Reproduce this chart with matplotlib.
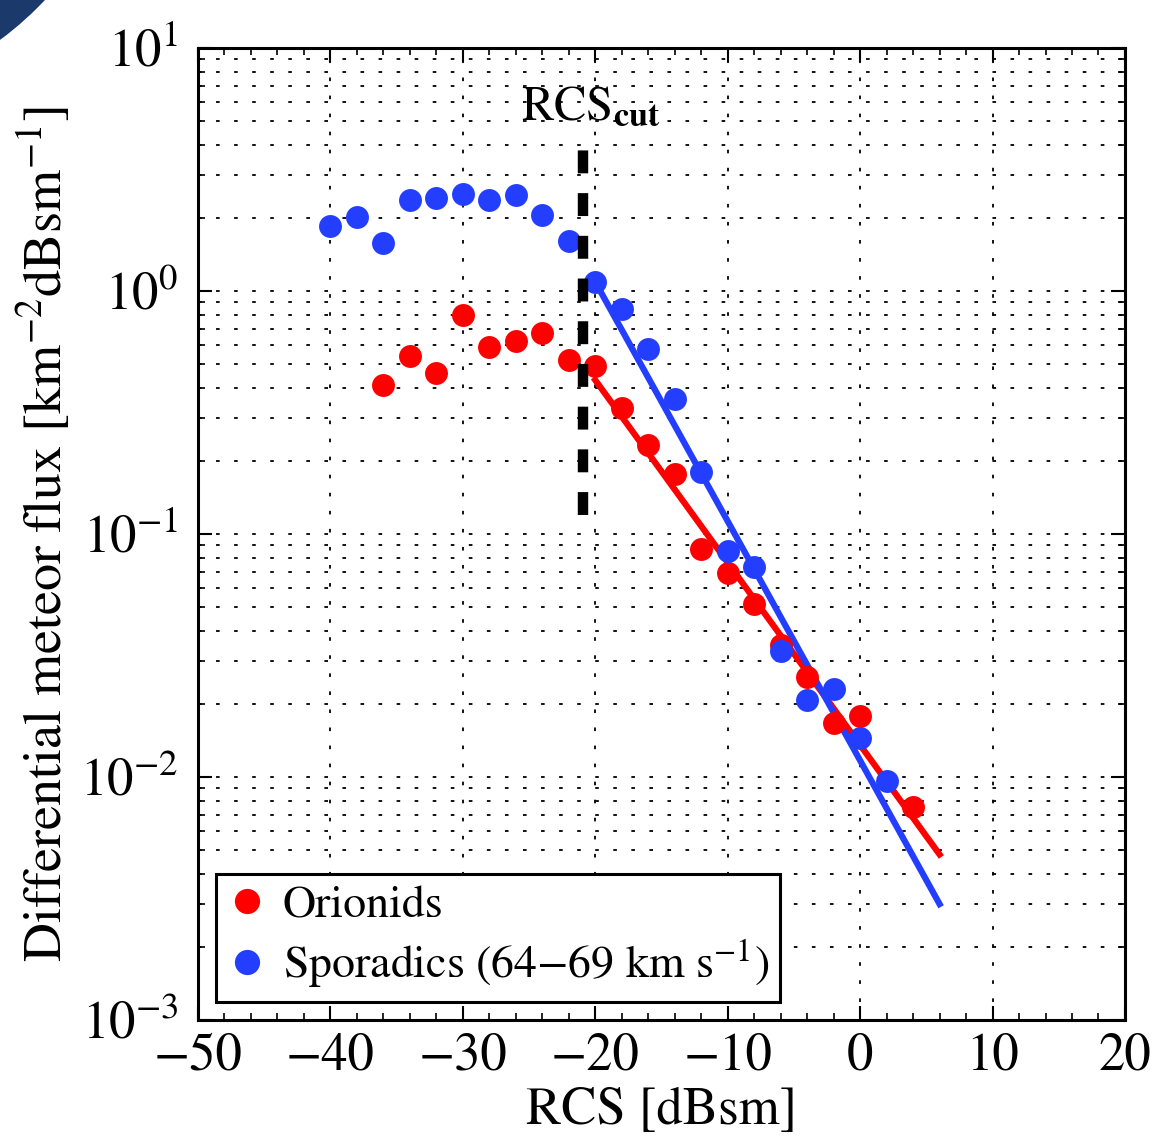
import matplotlib
matplotlib.use("Agg")
import matplotlib.pyplot as plt
from matplotlib.patches import Circle
from matplotlib.ticker import LogLocator, MultipleLocator, NullFormatter

plt.rcParams["font.family"] = ["STIXGeneral", "DejaVu Serif"]
plt.rcParams["mathtext.fontset"] = "stix"

# Данные: дифференциальный поток метеоров
rcs_sporadic = [-40, -38, -36, -34, -32, -30, -28, -26, -24, -22, -20,
                -18, -16, -14, -12, -10, -8, -6, -4, -2, 0, 2]
flux_sporadic = [1.85, 2.02, 1.58, 2.37, 2.41, 2.51, 2.37, 2.48, 2.05, 1.61, 1.09,
                 0.84, 0.58, 0.36, 0.18, 0.085, 0.073, 0.033, 0.0207, 0.023, 0.0145, 0.0096]

rcs_orionid = [-36, -34, -32, -30, -28, -26, -24, -22, -20,
               -18, -16, -14, -12, -10, -8, -6, -4, -2, 0, 4]
flux_orionid = [0.41, 0.54, 0.46, 0.80, 0.59, 0.62, 0.67, 0.52, 0.49,
                0.33, 0.232, 0.177, 0.087, 0.069, 0.0515, 0.035, 0.0258, 0.0167, 0.0178, 0.0075]

# аппроксимации (концы прямых в лог-масштабе)
fit_rcs = [-20, 6]
fit_orionid = [0.43, 0.0048]
fit_sporadic = [1.09, 0.0030]

rcs_cut = -20.9
cut_span = [0.12, 4.0]

red = "#ff0000"
blue = "#233eff"

fig = plt.figure(figsize=(11.55, 11.44), dpi=100)
ax = fig.add_axes([0.1714, 0.1084, 0.8026, 0.8496])

# угол слайда
fig.patches.append(Circle((-200, 1144 + 230), 336, transform=None,
                          facecolor="#1b3a6b", edgecolor="none", zorder=0))

ax.plot(fit_rcs, fit_orionid, color=red, lw=4.5, zorder=3)
ax.plot(fit_rcs, fit_sporadic, color=blue, lw=4.5, zorder=3)
ax.plot(rcs_orionid, flux_orionid, "o", color=red, ms=16.5, mec="none",
        label="Orionids", zorder=4)
ax.plot(rcs_sporadic, flux_sporadic, "o", color=blue, ms=16.5, mec="none",
        label="Sporadics (64$-$69 km s$^{-1}$)", zorder=4)

ax.plot([rcs_cut, rcs_cut], cut_span, color="black", lw=7.5,
        dashes=(2.2, 1.9), zorder=5)
ax.text(rcs_cut + 0.6, 4.6, r"RCS$_{\mathbf{cut}}$", fontsize=35,
        ha="center", va="bottom")

ax.set_yscale("log")
ax.set_xlim(-50, 20)
ax.set_ylim(1e-3, 1e1)

ax.xaxis.set_major_locator(MultipleLocator(10))
ax.xaxis.set_minor_locator(MultipleLocator(2))
ax.yaxis.set_major_locator(LogLocator(base=10, numticks=10))
ax.yaxis.set_minor_locator(LogLocator(base=10, subs=range(2, 10), numticks=20))
ax.yaxis.set_minor_formatter(NullFormatter())

ax.grid(True, which="major", axis="x", color="black", lw=1.3, linestyle=(0, (2, 8)))
ax.grid(True, which="both", axis="y", color="black", lw=1.3, linestyle=(0, (2, 8)))

ax.tick_params(which="both", direction="in", top=True, right=True, labelsize=38)
ax.tick_params(which="major", length=10, width=1.5, pad=9)
ax.tick_params(which="minor", length=5, width=1.2)
ax.tick_params(axis="y", which="major", pad=14)
for sp in ax.spines.values():
    sp.set_linewidth(2.2)

ax.set_xlabel("RCS [dBsm]", fontsize=38, labelpad=4)
ax.set_ylabel(r"Differential meteor flux [km$^{-2}$dBsm$^{-1}$]", fontsize=39, labelpad=4)

leg = ax.legend(loc="lower left", fontsize=33, numpoints=1, handlelength=0.85,
                handletextpad=0.35, borderpad=0.25, labelspacing=0.22,
                borderaxespad=0.4, fancybox=False, framealpha=1,
                edgecolor="black", markerscale=1.1)
leg.get_frame().set_linewidth(2.2)

plt.savefig("out.png", dpi=100)
plt.close()
